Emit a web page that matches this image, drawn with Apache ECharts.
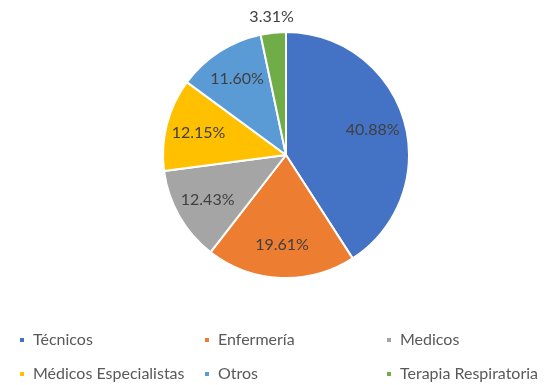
<!DOCTYPE html>
<html>
<head>
<meta charset="utf-8">
<script src="https://cdn.jsdelivr.net/npm/echarts@6/dist/echarts.min.js"></script>
<style>html,body{margin:0;padding:0;background:#fff;}#c{width:554px;height:385px;}</style>
</head>
<body>
<div id="c"></div>
<script>
const categories = ['Técnicos', 'Enfermería', 'Medicos', 'Médicos Especialistas', 'Otros', 'Terapia Respiratoria'];
const values = [40.88, 19.61, 12.43, 12.15, 11.60, 3.31];
const colors = ['#4472C4', '#ED7D31', '#A5A5A5', '#FFC000', '#5B9BD5', '#70AD47'];
const outsideLabel = [false, false, false, false, false, true];

const chart = echarts.init(document.getElementById('c'), null, {renderer: 'canvas'});
const CX = 286, CY = 155, R = 123;
const FONT = 'Lato, "Open Sans", sans-serif';
const fmt = p => p.value.toFixed(2) + '%';

const mainData = categories.map((n, i) => ({name: n, value: values[i], itemStyle: {color: colors[i]}}));
const innerData = categories.map((n, i) => ({name: n, value: values[i], label: {show: !outsideLabel[i]}}));
const outerData = categories.map((n, i) => ({name: n, value: values[i], label: {show: outsideLabel[i]}}));

const colX = [18, 203, 385];
const rowY = [331, 365];
const legends = categories.map((n, i) => ({
  data: [{name: n, itemStyle: {color: colors[i]}}],
  left: colX[i % 3],
  top: rowY[Math.floor(i / 3)],
  padding: 0,
  icon: 'rect',
  itemWidth: 6,
  itemHeight: 6,
  selectedMode: false,
  textStyle: {color: '#595959', fontSize: 16, fontFamily: FONT, lineHeight: 18, padding: [0, 0, 0, 3]}
}));

const overlayCommon = {
  type: 'pie', center: [CX, CY], startAngle: 90, clockwise: true,
  silent: true, animation: false, legendHoverLink: false,
  itemStyle: {color: 'rgba(0,0,0,0)', borderWidth: 0},
  labelLine: {show: false},
  emphasis: {disabled: true},
  label: {position: 'inside', color: '#404040', fontSize: 16, fontFamily: FONT, formatter: fmt}
};

chart.setOption({
  animation: false,
  legend: legends,
  series: [
    {
      name: 'main', type: 'pie', center: [CX, CY], radius: [0, R], startAngle: 90, clockwise: true,
      animation: false, data: mainData,
      itemStyle: {borderColor: '#ffffff', borderWidth: 2},
      label: {show: false}, labelLine: {show: false},
      emphasis: {disabled: true}
    },
    Object.assign({}, overlayCommon, {name: 'inner', radius: [R * 0.42, R], data: innerData}),
    Object.assign({}, overlayCommon, {name: 'outer', radius: [R + 4, R + 22], data: outerData})
  ]
});
</script>
</body>
</html>
